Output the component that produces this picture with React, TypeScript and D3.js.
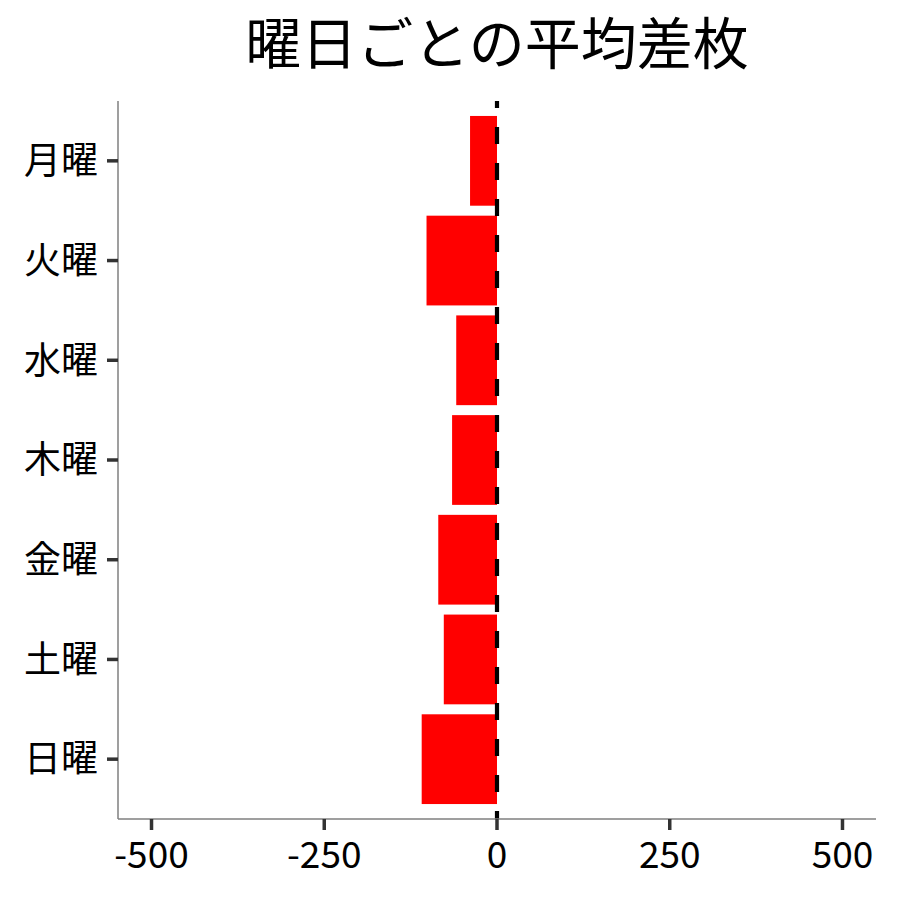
import { useRef, useEffect } from 'react'
import * as d3 from 'd3'

const TITLE = '曜日ごとの平均差枚'
const DAYS = ['月曜', '火曜', '水曜', '木曜', '金曜', '土曜', '日曜']
const DIFFS = [-39, -102, -59, -65, -85, -77, -109]
const X_TICKS = [-500, -250, 0, 250, 500]

const WIDTH = 900
const HEIGHT = 900
const PANEL = { left: 118, right: 876, top: 101, bottom: 819 }
const FONT = '"Noto Sans CJK JP", "Noto Sans", sans-serif'

export default function App() {
  const svgRef = useRef<SVGSVGElement>(null)

  useEffect(() => {
    if (!svgRef.current) return
    const el = d3.select(svgRef.current)
    el.selectAll('*').remove()

    const x = d3.scaleLinear().domain([-548.5, 548.5]).range([PANEL.left, PANEL.right])
    // ggplot-like discrete expansion (0.6 units each side), bar width 0.9
    const y = d3.scaleBand()
      .domain(DAYS)
      .range([PANEL.top, PANEL.bottom])
      .paddingInner(0.1)
      .paddingOuter(0.15)
    const yc = (d: string) => (y(d) ?? 0) + y.bandwidth() / 2

    // Bars
    el.append('g')
      .selectAll('rect')
      .data(DAYS)
      .join('rect')
      .attr('x', (d, i) => x(Math.min(0, DIFFS[i])))
      .attr('y', (d) => y(d) ?? 0)
      .attr('width', (d, i) => Math.abs(x(DIFFS[i]) - x(0)))
      .attr('height', y.bandwidth())
      .attr('fill', '#ff0000')

    // Zero reference line
    el.append('line')
      .attr('x1', x(0)).attr('x2', x(0))
      .attr('y1', PANEL.top).attr('y2', PANEL.bottom)
      .attr('stroke', '#000')
      .attr('stroke-width', 4.2)
      .attr('stroke-dasharray', '17,19')
      .attr('stroke-dashoffset', 10)

    // Axis lines
    el.append('line')
      .attr('x1', PANEL.left).attr('x2', PANEL.left)
      .attr('y1', PANEL.top).attr('y2', PANEL.bottom)
      .attr('stroke', '#7f7f7f').attr('stroke-width', 1.5)
    el.append('line')
      .attr('x1', PANEL.left).attr('x2', PANEL.right)
      .attr('y1', PANEL.bottom).attr('y2', PANEL.bottom)
      .attr('stroke', '#7f7f7f').attr('stroke-width', 1.5)

    // Y ticks + labels
    const yAxis = el.append('g')
    DAYS.forEach((d) => {
      yAxis.append('line')
        .attr('x1', PANEL.left - 11).attr('x2', PANEL.left)
        .attr('y1', yc(d)).attr('y2', yc(d))
        .attr('stroke', '#333').attr('stroke-width', 3.5)
      yAxis.append('text')
        .attr('x', PANEL.left - 20)
        .attr('y', yc(d))
        .attr('dy', '0.36em')
        .attr('text-anchor', 'end')
        .attr('font-family', FONT)
        .attr('font-size', 37)
        .attr('fill', '#000')
        .text(d)
    })

    // X ticks + labels
    const xAxis = el.append('g')
    X_TICKS.forEach((t) => {
      xAxis.append('line')
        .attr('x1', x(t)).attr('x2', x(t))
        .attr('y1', PANEL.bottom).attr('y2', PANEL.bottom + 11)
        .attr('stroke', '#333').attr('stroke-width', 3.5)
      xAxis.append('text')
        .attr('x', x(t))
        .attr('y', 868)
        .attr('text-anchor', 'middle')
        .attr('font-family', FONT)
        .attr('font-size', 37)
        .attr('fill', '#000')
        .text(t)
    })

    // Title
    el.append('text')
      .attr('x', (PANEL.left + PANEL.right) / 2)
      .attr('y', 64)
      .attr('text-anchor', 'middle')
      .attr('font-family', FONT)
      .attr('font-size', 56)
      .attr('fill', '#000')
      .text(TITLE)
  }, [])

  return (
    <svg
      ref={svgRef}
      width={WIDTH}
      height={HEIGHT}
      style={{ position: 'absolute', left: 0, top: 0, background: '#fff' }}
    />
  )
}
